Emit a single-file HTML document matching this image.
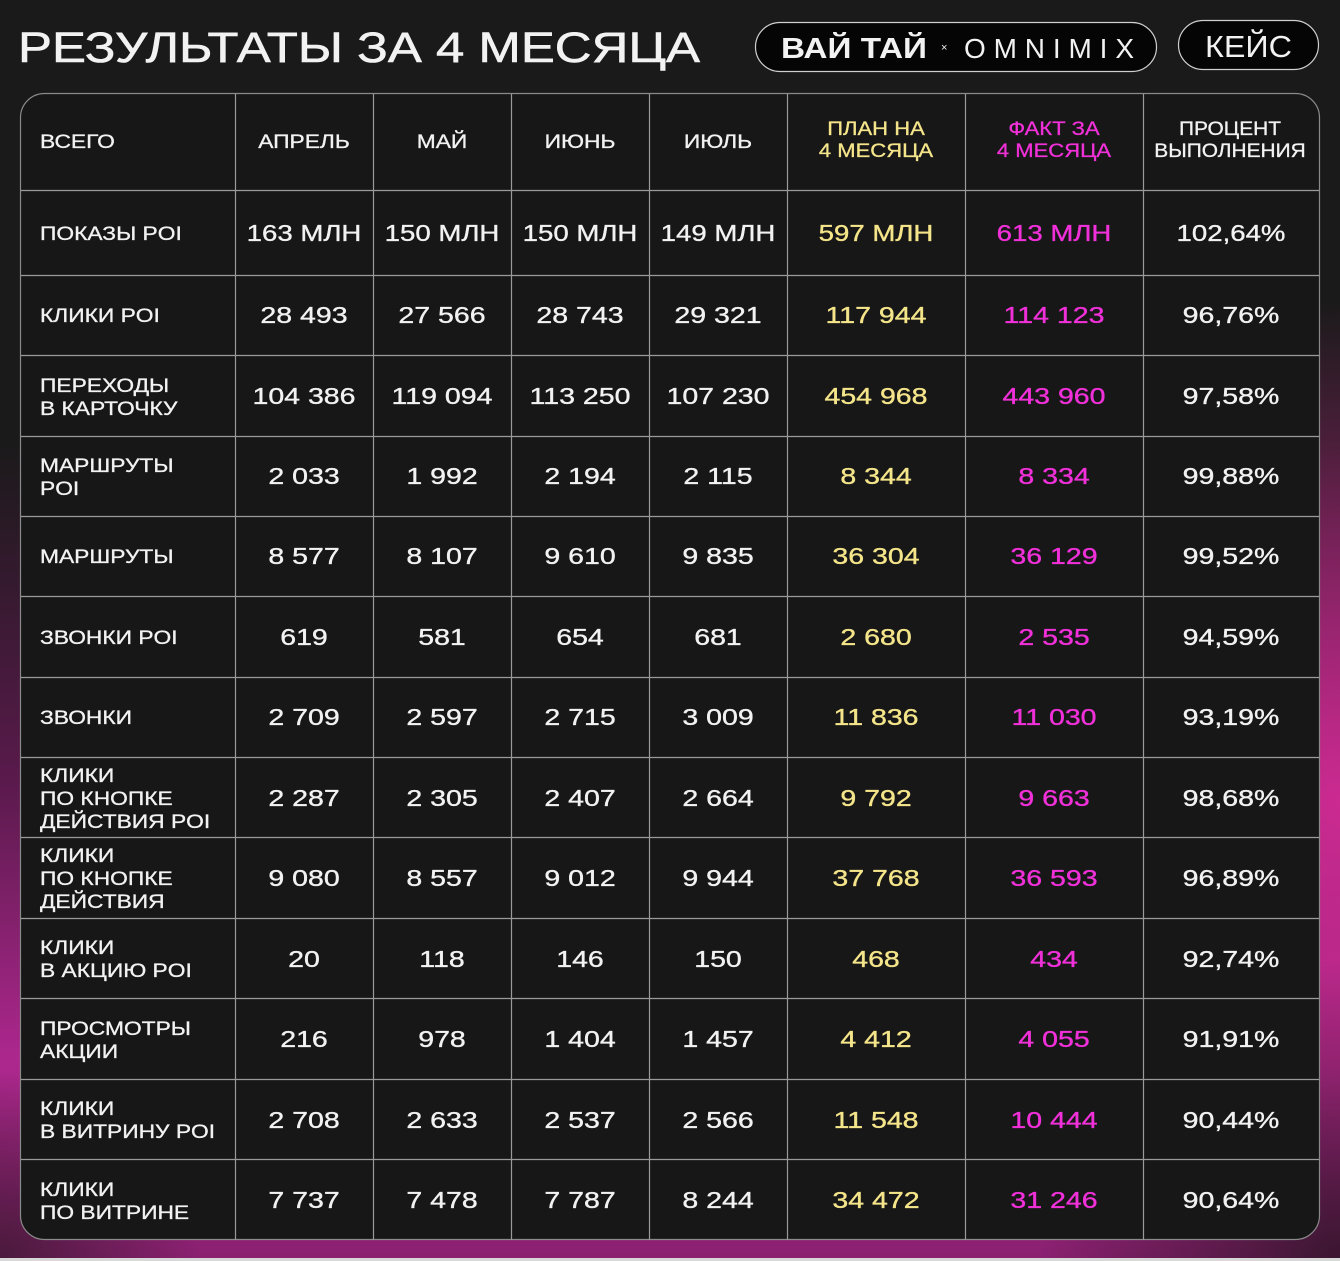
<!DOCTYPE html>
<html><head><meta charset="utf-8"><style>
html,body{margin:0;padding:0;background:#1a1a1a}
svg{display:block}
text{font-family:"Liberation Sans","DejaVu Sans",sans-serif;fill:#f2f2f2;stroke:currentColor}
.n{font-size:23px;text-anchor:middle;stroke:#f2f2f2;stroke-width:0.35}
.l{font-size:19px;stroke:#f2f2f2;stroke-width:0.3}
.h{font-size:19px;text-anchor:middle;stroke:#f2f2f2;stroke-width:0.3}
.y{fill:#f5e58a;stroke:#f5e58a}.m{fill:#f030d8;stroke:#f030d8}
.t{stroke:none}
</style></head><body>
<svg width="1340" height="1261" viewBox="0 0 1340 1261" xmlns="http://www.w3.org/2000/svg">
<defs>
<linearGradient id="bg" x1="0" y1="0" x2="0" y2="1">
<stop offset="0" stop-color="#1a1a1a"/><stop offset="0.35" stop-color="#1a1a1a"/>
<stop offset="0.62" stop-color="#5a1a4c"/><stop offset="0.85" stop-color="#b02890"/><stop offset="1" stop-color="#8a2070"/>
</linearGradient>
<radialGradient id="rg" cx="1340" cy="800" r="500" gradientUnits="userSpaceOnUse">
<stop offset="0" stop-color="#d82c98" stop-opacity="0.9"/><stop offset="1" stop-color="#d82c98" stop-opacity="0"/>
</radialGradient>
<radialGradient id="dk" cx="1340" cy="1261" r="300" gradientUnits="userSpaceOnUse">
<stop offset="0" stop-color="#3a1630" stop-opacity="1"/><stop offset="1" stop-color="#3a1630" stop-opacity="0"/>
</radialGradient>
<radialGradient id="dk2" cx="0" cy="1261" r="200" gradientUnits="userSpaceOnUse">
<stop offset="0" stop-color="#4a1a3c" stop-opacity="1"/><stop offset="1" stop-color="#4a1a3c" stop-opacity="0"/>
</radialGradient>
</defs>
<rect width="1340" height="1261" fill="url(#bg)"/>
<rect width="1340" height="1261" fill="url(#rg)"/>
<rect width="1340" height="1261" fill="url(#dk)"/>
<rect width="1340" height="1261" fill="url(#dk2)"/>
<rect y="1258" width="1340" height="3" fill="#d8d8d8"/>

<text class="t" x="18" y="62" style="font-size:43px;stroke:#f2f2f2;stroke-width:0.6" textLength="682" lengthAdjust="spacingAndGlyphs">РЕЗУЛЬТАТЫ ЗА 4 МЕСЯЦА</text>
<rect x="755.5" y="22.5" width="401" height="49" rx="24.5" fill="#050505" stroke="#cfcfcf" stroke-width="1.2"/>
<text class="t" x="781" y="58" style="font-size:29px;font-weight:700" textLength="146" lengthAdjust="spacingAndGlyphs">ВАЙ ТАЙ</text>
<text class="t" x="941" y="51" style="font-size:11px">×</text>
<text class="t" x="964" y="58" style="font-size:28px" textLength="170" lengthAdjust="spacing">OMNIMIX</text>
<rect x="1178.5" y="20.5" width="140" height="49" rx="24.5" fill="#050505" stroke="#cfcfcf" stroke-width="1.2"/>
<text class="t" x="1205" y="57" style="font-size:31px" textLength="87" lengthAdjust="spacingAndGlyphs">КЕЙС</text>

<rect x="20.5" y="93.5" width="1299" height="1146" rx="24" fill="#171717" stroke="#8a8a8a" stroke-width="1.2"/>
<g stroke="#9a9a9a" stroke-width="1.2">
<line x1="235.5" y1="94" x2="235.5" y2="1240"/><line x1="373.5" y1="94" x2="373.5" y2="1240"/>
<line x1="511.5" y1="94" x2="511.5" y2="1240"/><line x1="649.5" y1="94" x2="649.5" y2="1240"/>
<line x1="787.5" y1="94" x2="787.5" y2="1240"/><line x1="965.5" y1="94" x2="965.5" y2="1240"/>
<line x1="1143.5" y1="94" x2="1143.5" y2="1240"/>
<line x1="21" y1="190.5" x2="1319" y2="190.5"/><line x1="21" y1="275.5" x2="1319" y2="275.5"/>
<line x1="21" y1="355.5" x2="1319" y2="355.5"/><line x1="21" y1="436.5" x2="1319" y2="436.5"/>
<line x1="21" y1="516.5" x2="1319" y2="516.5"/><line x1="21" y1="596.5" x2="1319" y2="596.5"/>
<line x1="21" y1="677.5" x2="1319" y2="677.5"/><line x1="21" y1="757.5" x2="1319" y2="757.5"/>
<line x1="21" y1="837.5" x2="1319" y2="837.5"/><line x1="21" y1="918.5" x2="1319" y2="918.5"/>
<line x1="21" y1="998.5" x2="1319" y2="998.5"/><line x1="21" y1="1079.5" x2="1319" y2="1079.5"/>
<line x1="21" y1="1159.5" x2="1319" y2="1159.5"/>
</g>

<!-- header -->
<g transform="translate(40,148) scale(1.2,1)"><text class="l">ВСЕГО</text></g>
<g transform="translate(304,148) scale(1.2,1)"><text class="h">АПРЕЛЬ</text></g>
<g transform="translate(442,148) scale(1.2,1)"><text class="h">МАЙ</text></g>
<g transform="translate(580,148) scale(1.2,1)"><text class="h">ИЮНЬ</text></g>
<g transform="translate(718,148) scale(1.2,1)"><text class="h">ИЮЛЬ</text></g>
<g transform="translate(876,135) scale(1.16,1)"><text class="h y">ПЛАН НА</text><text class="h y" y="22">4 МЕСЯЦА</text></g>
<g transform="translate(1054,135) scale(1.16,1)"><text class="h m">ФАКТ ЗА</text><text class="h m" y="22">4 МЕСЯЦА</text></g>
<g transform="translate(1230,135) scale(1.1,1)"><text class="h">ПРОЦЕНТ</text><text class="h" y="22">ВЫПОЛНЕНИЯ</text></g>

<!-- labels -->
<g transform="translate(40,240) scale(1.2,1)"><text class="l">ПОКАЗЫ POI</text></g>
<g transform="translate(40,322) scale(1.2,1)"><text class="l">КЛИКИ POI</text></g>
<g transform="translate(40,392) scale(1.2,1)"><text class="l">ПЕРЕХОДЫ</text><text class="l" y="23">В КАРТОЧКУ</text></g>
<g transform="translate(40,472) scale(1.2,1)"><text class="l">МАРШРУТЫ</text><text class="l" y="23">POI</text></g>
<g transform="translate(40,563) scale(1.2,1)"><text class="l">МАРШРУТЫ</text></g>
<g transform="translate(40,644) scale(1.2,1)"><text class="l">ЗВОНКИ POI</text></g>
<g transform="translate(40,724) scale(1.2,1)"><text class="l">ЗВОНКИ</text></g>
<g transform="translate(40,782) scale(1.2,1)"><text class="l">КЛИКИ</text><text class="l" y="23">ПО КНОПКЕ</text><text class="l" y="46">ДЕЙСТВИЯ POI</text></g>
<g transform="translate(40,862) scale(1.2,1)"><text class="l">КЛИКИ</text><text class="l" y="23">ПО КНОПКЕ</text><text class="l" y="46">ДЕЙСТВИЯ</text></g>
<g transform="translate(40,954) scale(1.2,1)"><text class="l">КЛИКИ</text><text class="l" y="23">В АКЦИЮ POI</text></g>
<g transform="translate(40,1035) scale(1.2,1)"><text class="l">ПРОСМОТРЫ</text><text class="l" y="23">АКЦИИ</text></g>
<g transform="translate(40,1115) scale(1.2,1)"><text class="l">КЛИКИ</text><text class="l" y="23">В ВИТРИНУ POI</text></g>
<g transform="translate(40,1196) scale(1.2,1)"><text class="l">КЛИКИ</text><text class="l" y="23">ПО ВИТРИНЕ</text></g>

<!-- numbers -->
<g transform="translate(0,241)">
<g transform="translate(304,0) scale(1.2,1)"><text class="n">163 МЛН</text></g>
<g transform="translate(442,0) scale(1.2,1)"><text class="n">150 МЛН</text></g>
<g transform="translate(580,0) scale(1.2,1)"><text class="n">150 МЛН</text></g>
<g transform="translate(718,0) scale(1.2,1)"><text class="n">149 МЛН</text></g>
<g transform="translate(876,0) scale(1.2,1)"><text class="n y">597 МЛН</text></g>
<g transform="translate(1054,0) scale(1.2,1)"><text class="n m">613 МЛН</text></g>
<g transform="translate(1231,0) scale(1.2,1)"><text class="n">102,64%</text></g>
</g>
<g transform="translate(0,323)">
<g transform="translate(304,0) scale(1.24,1)"><text class="n">28 493</text></g>
<g transform="translate(442,0) scale(1.24,1)"><text class="n">27 566</text></g>
<g transform="translate(580,0) scale(1.24,1)"><text class="n">28 743</text></g>
<g transform="translate(718,0) scale(1.24,1)"><text class="n">29 321</text></g>
<g transform="translate(876,0) scale(1.24,1)"><text class="n y">117 944</text></g>
<g transform="translate(1054,0) scale(1.24,1)"><text class="n m">114 123</text></g>
<g transform="translate(1231,0) scale(1.24,1)"><text class="n">96,76%</text></g>
</g>
<g transform="translate(0,404)">
<g transform="translate(304,0) scale(1.24,1)"><text class="n">104 386</text></g>
<g transform="translate(442,0) scale(1.24,1)"><text class="n">119 094</text></g>
<g transform="translate(580,0) scale(1.24,1)"><text class="n">113 250</text></g>
<g transform="translate(718,0) scale(1.24,1)"><text class="n">107 230</text></g>
<g transform="translate(876,0) scale(1.24,1)"><text class="n y">454 968</text></g>
<g transform="translate(1054,0) scale(1.24,1)"><text class="n m">443 960</text></g>
<g transform="translate(1231,0) scale(1.24,1)"><text class="n">97,58%</text></g>
</g>
<g transform="translate(0,484)">
<g transform="translate(304,0) scale(1.24,1)"><text class="n">2 033</text></g>
<g transform="translate(442,0) scale(1.24,1)"><text class="n">1 992</text></g>
<g transform="translate(580,0) scale(1.24,1)"><text class="n">2 194</text></g>
<g transform="translate(718,0) scale(1.24,1)"><text class="n">2 115</text></g>
<g transform="translate(876,0) scale(1.24,1)"><text class="n y">8 344</text></g>
<g transform="translate(1054,0) scale(1.24,1)"><text class="n m">8 334</text></g>
<g transform="translate(1231,0) scale(1.24,1)"><text class="n">99,88%</text></g>
</g>
<g transform="translate(0,564)">
<g transform="translate(304,0) scale(1.24,1)"><text class="n">8 577</text></g>
<g transform="translate(442,0) scale(1.24,1)"><text class="n">8 107</text></g>
<g transform="translate(580,0) scale(1.24,1)"><text class="n">9 610</text></g>
<g transform="translate(718,0) scale(1.24,1)"><text class="n">9 835</text></g>
<g transform="translate(876,0) scale(1.24,1)"><text class="n y">36 304</text></g>
<g transform="translate(1054,0) scale(1.24,1)"><text class="n m">36 129</text></g>
<g transform="translate(1231,0) scale(1.24,1)"><text class="n">99,52%</text></g>
</g>
<g transform="translate(0,645)">
<g transform="translate(304,0) scale(1.24,1)"><text class="n">619</text></g>
<g transform="translate(442,0) scale(1.24,1)"><text class="n">581</text></g>
<g transform="translate(580,0) scale(1.24,1)"><text class="n">654</text></g>
<g transform="translate(718,0) scale(1.24,1)"><text class="n">681</text></g>
<g transform="translate(876,0) scale(1.24,1)"><text class="n y">2 680</text></g>
<g transform="translate(1054,0) scale(1.24,1)"><text class="n m">2 535</text></g>
<g transform="translate(1231,0) scale(1.24,1)"><text class="n">94,59%</text></g>
</g>
<g transform="translate(0,725)">
<g transform="translate(304,0) scale(1.24,1)"><text class="n">2 709</text></g>
<g transform="translate(442,0) scale(1.24,1)"><text class="n">2 597</text></g>
<g transform="translate(580,0) scale(1.24,1)"><text class="n">2 715</text></g>
<g transform="translate(718,0) scale(1.24,1)"><text class="n">3 009</text></g>
<g transform="translate(876,0) scale(1.24,1)"><text class="n y">11 836</text></g>
<g transform="translate(1054,0) scale(1.24,1)"><text class="n m">11 030</text></g>
<g transform="translate(1231,0) scale(1.24,1)"><text class="n">93,19%</text></g>
</g>
<g transform="translate(0,806)">
<g transform="translate(304,0) scale(1.24,1)"><text class="n">2 287</text></g>
<g transform="translate(442,0) scale(1.24,1)"><text class="n">2 305</text></g>
<g transform="translate(580,0) scale(1.24,1)"><text class="n">2 407</text></g>
<g transform="translate(718,0) scale(1.24,1)"><text class="n">2 664</text></g>
<g transform="translate(876,0) scale(1.24,1)"><text class="n y">9 792</text></g>
<g transform="translate(1054,0) scale(1.24,1)"><text class="n m">9 663</text></g>
<g transform="translate(1231,0) scale(1.24,1)"><text class="n">98,68%</text></g>
</g>
<g transform="translate(0,886)">
<g transform="translate(304,0) scale(1.24,1)"><text class="n">9 080</text></g>
<g transform="translate(442,0) scale(1.24,1)"><text class="n">8 557</text></g>
<g transform="translate(580,0) scale(1.24,1)"><text class="n">9 012</text></g>
<g transform="translate(718,0) scale(1.24,1)"><text class="n">9 944</text></g>
<g transform="translate(876,0) scale(1.24,1)"><text class="n y">37 768</text></g>
<g transform="translate(1054,0) scale(1.24,1)"><text class="n m">36 593</text></g>
<g transform="translate(1231,0) scale(1.24,1)"><text class="n">96,89%</text></g>
</g>
<g transform="translate(0,967)">
<g transform="translate(304,0) scale(1.24,1)"><text class="n">20</text></g>
<g transform="translate(442,0) scale(1.24,1)"><text class="n">118</text></g>
<g transform="translate(580,0) scale(1.24,1)"><text class="n">146</text></g>
<g transform="translate(718,0) scale(1.24,1)"><text class="n">150</text></g>
<g transform="translate(876,0) scale(1.24,1)"><text class="n y">468</text></g>
<g transform="translate(1054,0) scale(1.24,1)"><text class="n m">434</text></g>
<g transform="translate(1231,0) scale(1.24,1)"><text class="n">92,74%</text></g>
</g>
<g transform="translate(0,1047)">
<g transform="translate(304,0) scale(1.24,1)"><text class="n">216</text></g>
<g transform="translate(442,0) scale(1.24,1)"><text class="n">978</text></g>
<g transform="translate(580,0) scale(1.24,1)"><text class="n">1 404</text></g>
<g transform="translate(718,0) scale(1.24,1)"><text class="n">1 457</text></g>
<g transform="translate(876,0) scale(1.24,1)"><text class="n y">4 412</text></g>
<g transform="translate(1054,0) scale(1.24,1)"><text class="n m">4 055</text></g>
<g transform="translate(1231,0) scale(1.24,1)"><text class="n">91,91%</text></g>
</g>
<g transform="translate(0,1128)">
<g transform="translate(304,0) scale(1.24,1)"><text class="n">2 708</text></g>
<g transform="translate(442,0) scale(1.24,1)"><text class="n">2 633</text></g>
<g transform="translate(580,0) scale(1.24,1)"><text class="n">2 537</text></g>
<g transform="translate(718,0) scale(1.24,1)"><text class="n">2 566</text></g>
<g transform="translate(876,0) scale(1.24,1)"><text class="n y">11 548</text></g>
<g transform="translate(1054,0) scale(1.24,1)"><text class="n m">10 444</text></g>
<g transform="translate(1231,0) scale(1.24,1)"><text class="n">90,44%</text></g>
</g>
<g transform="translate(0,1208)">
<g transform="translate(304,0) scale(1.24,1)"><text class="n">7 737</text></g>
<g transform="translate(442,0) scale(1.24,1)"><text class="n">7 478</text></g>
<g transform="translate(580,0) scale(1.24,1)"><text class="n">7 787</text></g>
<g transform="translate(718,0) scale(1.24,1)"><text class="n">8 244</text></g>
<g transform="translate(876,0) scale(1.24,1)"><text class="n y">34 472</text></g>
<g transform="translate(1054,0) scale(1.24,1)"><text class="n m">31 246</text></g>
<g transform="translate(1231,0) scale(1.24,1)"><text class="n">90,64%</text></g>
</g>
</svg>
</body></html>
